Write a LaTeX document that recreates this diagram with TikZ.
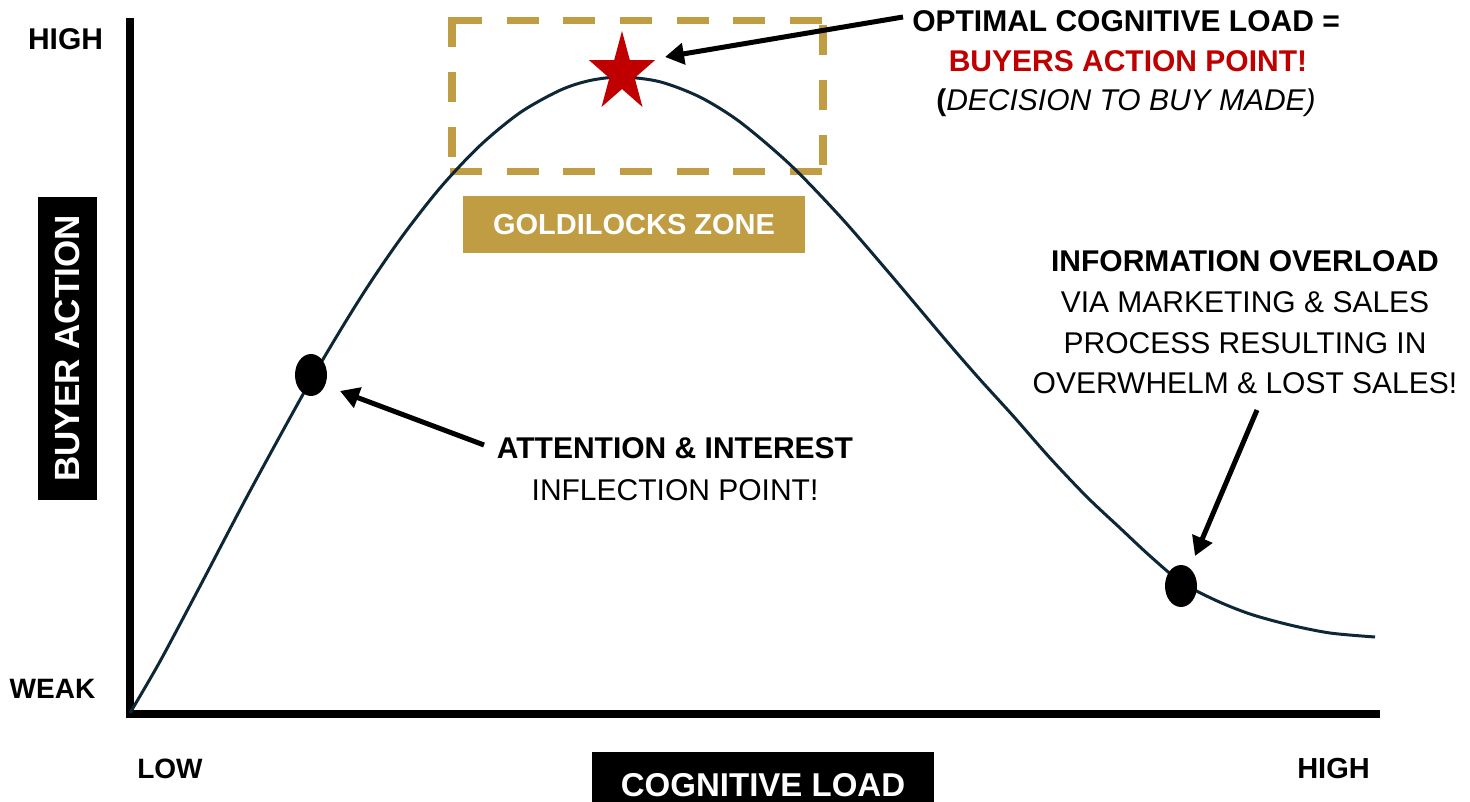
\documentclass[tikz,border=0pt]{standalone}
\usepackage{fontspec}
\setmainfont{Liberation Sans}
\usetikzlibrary{arrows.meta,shapes.geometric}
\definecolor{gold}{HTML}{C09D42}
\definecolor{darkred}{HTML}{C00000}
\definecolor{curvecol}{HTML}{0E2736}
\begin{document}
\begin{tikzpicture}[x=1pt,y=-1pt,
  lbl/.style={inner sep=0pt, anchor=base, font=\fontsize{30}{36}\selectfont},
  lblb/.style={inner sep=0pt, anchor=base, font=\fontsize{30}{36}\selectfont\bfseries},
  axlbl/.style={inner sep=0pt, anchor=base, font=\fontsize{28}{34}\selectfont\bfseries},
  arr/.style={line width=5pt, -{Triangle[length=19pt,width=21pt]}},
  dotnode/.style={ellipse, fill=black, minimum width=32pt, minimum height=42pt, inner sep=0pt},
  axis/.style={line width=8pt, black},
  curve/.style={line width=3pt, curvecol, line join=round},
  zonedash/.style={line width=7.5pt, gold},
  blackbox/.style={fill=black, text=white, inner sep=0pt, font=\fontsize{35}{40}\selectfont\bfseries}
]
\useasboundingbox (0,0) rectangle (1470,802);

% dashed goldilocks frame
\draw[zonedash, dash pattern=on 32pt off 24.67pt] (450,20.5) -- (822,20.5);
\draw[zonedash, dash pattern=on 32pt off 24.67pt] (450,171.5) -- (822,171.5);
\draw[zonedash, dash pattern=on 30pt off 25pt] (452,17) -- (452,160);
\draw[zonedash, dash pattern=on 30pt off 25pt] (823,25) -- (823,168);

% axes
\coordinate (origin) at (130,714);
\coordinate (ytop) at (130,18);
\coordinate (xend) at (1380,714);
\draw[axis] (130,718) -- (ytop);
\draw[axis] (126,714) -- (xend);

% curve
\draw[curve] plot[smooth] coordinates {(130,713) (160,661.4) (200,586.2) (250,491) (313,376.6) (360,298.5) (400,239.4) (440,188) (480,145.6) (520,112.7) (560,90.3) (590,80.5) (622,77) (660,81.8) (700,97.1) (740,122) (790,164.5) (840,216.4) (890,274) (947,341.6) (980,379.5) (1013,415.8) (1050,458) (1087,497) (1120,528) (1150,556) (1181,582) (1215,600) (1250,614) (1290,625) (1330,633) (1375,637)};

% dots
\node[dotnode] (dot1) at (311,375) {};
\node[dotnode] (dot2) at (1181,586) {};

% star
\begin{scope}[shift={(622,73)}, xscale=0.83]
\node[star, star points=5, star point ratio=2.62, minimum size=84pt, inner sep=0pt, fill=darkred, transform shape] (star) at (0,0) {};
\end{scope}

% goldilocks label
\node[fill=gold, text=white, inner sep=0pt, minimum width=342pt, minimum height=57pt, font=\fontsize{29}{34}\selectfont\bfseries] (zone) at (634,224.5) {GOLDILOCKS ZONE};

% axis boxes
\node[blackbox, rotate=90, minimum width=303pt, minimum height=59pt] (yaxis) at (67.5,348.5) {BUYER ACTION};
\node[blackbox, minimum width=342pt, minimum height=50pt, text height=40pt, font=\fontsize{33}{40}\selectfont\bfseries] (xaxis) at (763,777) {COGNITIVE LOAD};

% axis end labels
\node[lblb] (yhigh) at (65.5,50) {HIGH};
\node[axlbl] (yweak) at (52.5,698) {WEAK};
\node[axlbl] (xlow) at (170,778) {LOW};
\node[axlbl, font=\fontsize{29}{34}\selectfont\bfseries] (xhigh) at (1333.5,778) {HIGH};

% top annotation
\node[lblb] (opt1) at (1126,32) {OPTIMAL COGNITIVE LOAD =};
\node[lblb, text=darkred] (opt2) at (1128,72) {BUYERS ACTION POINT!};
\node[lbl] (opt3) at (1126,111) {{\bfseries (}\itshape DECISION TO BUY MADE)};

% attention annotation
\node[lblb] (att1) at (675,458) {ATTENTION \& INTEREST};
\node[lbl] (att2) at (675,500) {INFLECTION POINT!};

% overload annotation
\node[lblb] (ov1) at (1245,272) {INFORMATION OVERLOAD};
\node[lbl] (ov2) at (1245,313) {VIA MARKETING \& SALES};
\node[lbl] (ov3) at (1245,353) {PROCESS RESULTING IN};
\node[lbl] (ov4) at (1245,393) {OVERWHELM \& LOST SALES!};

% arrows
\coordinate (toptail) at (903,17);
\coordinate (toptip) at (665,57);
\coordinate (atttail) at (484,445);
\coordinate (atttip) at (340,391);
\coordinate (ovtail) at (1257,410);
\coordinate (ovtip) at (1195,556);
\draw[arr] (toptail) -- (toptip);
\draw[arr] (atttail) -- (atttip);
\draw[arr] (ovtail) -- (ovtip);
\end{tikzpicture}
\end{document}
